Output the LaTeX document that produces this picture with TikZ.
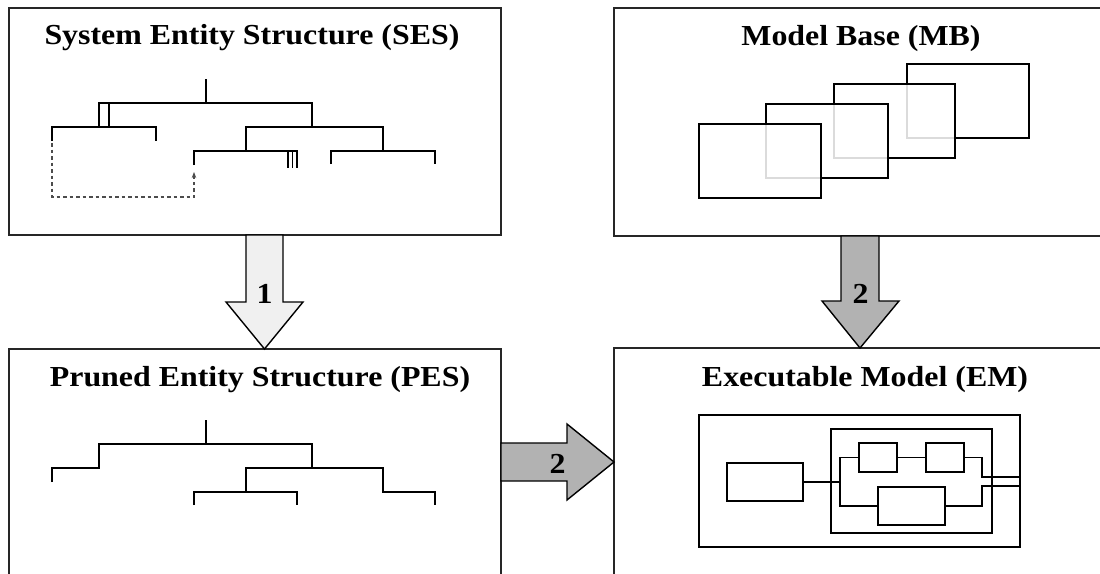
\documentclass[tikz,border=0pt]{standalone}
\usepackage{fontspec}
\setmainfont{Liberation Serif}
\newfontfamily\titlefont[FakeStretch=1.1]{Liberation Serif}
\usetikzlibrary{arrows.meta}

\begin{document}
\begin{tikzpicture}[
  x=1pt, y=-1pt,
  panel/.style={draw=black!85, line width=1.4pt, anchor=north west, inner sep=0pt, outer sep=0pt},
  title/.style={font=\titlefont\fontsize{29}{32}\selectfont\bfseries, anchor=base},
  tree/.style={line width=1.6pt},
  model/.style={draw, line width=1.4pt, fill=white, fill opacity=0.86, draw opacity=1},
  comp/.style={draw, line width=1.4pt, inner sep=0pt, outer sep=0pt},
  wire/.style={line width=1.4pt},
  block/.style={draw, line width=1.4pt, line join=miter},
  stepone/.style={block, fill=gray!12},
  steptwo/.style={block, fill=gray!60},
  stepnum/.style={font=\titlefont\fontsize{29}{32}\selectfont\bfseries, anchor=base}
]
\path[use as bounding box] (0,0) rectangle (1100,573);
\clip (0,0) rectangle (1100,573);

% panels
\node[panel, minimum width=492, minimum height=227] (ses) at (9,8) {};
\node[panel, minimum width=520, minimum height=228] (mb) at (614,8) {};
\node[panel, minimum width=492, minimum height=260] (pes) at (9,349) {};
\node[panel, minimum width=520, minimum height=260] (em) at (614,348) {};

\node[title] (sestitle) at (252,44) {System Entity Structure (SES)};
\node[title] (mbtitle) at (861,45) {Model Base (MB)};
\node[title] (pestitle) at (260,386) {Pruned Entity Structure (PES)};
\node[title] (emtitle) at (865,386) {Executable Model (EM)};

% SES tree
\draw[tree] (206,79) -- (206,103);
\draw[tree] (99,127) -- (99,103) -- (312,103) -- (312,127);
\draw[tree] (109,103) -- (109,127);
\draw[tree] (52,141) -- (52,127) -- (156,127) -- (156,141);
\draw[tree] (246,151) -- (246,127) -- (383,127) -- (383,151);
\draw[tree] (194,165) -- (194,151) -- (297,151) -- (297,168);
\draw[tree] (288,151) -- (288,168);
\draw[tree] (292.5,151) -- (292.5,168);
\draw[tree] (331,164) -- (331,151) -- (435,151) -- (435,164);
\draw[gray!60!black, line width=1.1pt, dash pattern=on 3.5pt off 3pt,
  -{Stealth[length=6pt,width=4.5pt]}] (52,143) -- (52,197) -- (194,197) -- (194,172);

% PES tree
\draw[tree] (206,420) -- (206,444);
\draw[tree] (52,482) -- (52,468) -- (99,468) -- (99,444) -- (312,444) -- (312,468);
\draw[tree] (194,505) -- (194,492) -- (297,492) -- (297,505);
\draw[tree] (246,492) -- (246,468) -- (383,468) -- (383,492) -- (435,492) -- (435,505);

% model base, back to front
\draw[model] (907,64) rectangle (1029,138);
\draw[model] (834,84) rectangle (955,158);
\draw[model] (766,104) rectangle (888,178);
\draw[model] (699,124) rectangle (821,198);

% executable model
\node[comp, minimum width=321, minimum height=132] (outer) at (859.5,481) {};
\node[comp, minimum width=161, minimum height=104] (inner) at (911.5,481) {};
\node[comp, minimum width=76, minimum height=38] (src) at (765,482) {};
\node[comp, minimum width=38, minimum height=29] (ma) at (878,457.5) {};
\node[comp, minimum width=38, minimum height=29] (mb2) at (945,457.5) {};
\node[comp, minimum width=67, minimum height=38] (mc) at (911.5,506) {};
\coordinate (split) at (840,482);
\coordinate (outa) at (outer.east |- 0,477);
\coordinate (outb) at (outer.east |- 0,486);
\draw[wire] (src.east) -- (split);
\draw[wire] (ma.west) -- (ma.west -| split) -- (mc.west -| split) -- (mc.west);
\draw[wire] (ma) -- (mb2);
\draw[wire] (mb2.east) -- (982,457.5) -- (982,477) -- (outa);
\draw[wire] (mc.east) -- (982,506) -- (982,486) -- (outb);

% steps
\draw[stepone] (246,235) -- (246,302) -- (226,302) -- (264.5,349) -- (303,302) -- (283,302) -- (283,235) -- cycle;
\node[stepnum] (one) at (264.5,303) {1};
\draw[steptwo] (841,236) -- (841,301) -- (822,301) -- (860,348) -- (899,301) -- (879,301) -- (879,236) -- cycle;
\node[stepnum] (twoa) at (860.5,303) {2};
\draw[steptwo] (501,443) -- (567,443) -- (567,424) -- (614,462) -- (567,500) -- (567,481) -- (501,481) -- cycle;
\node[stepnum] (twob) at (557.5,473) {2};
\end{tikzpicture}
\end{document}
